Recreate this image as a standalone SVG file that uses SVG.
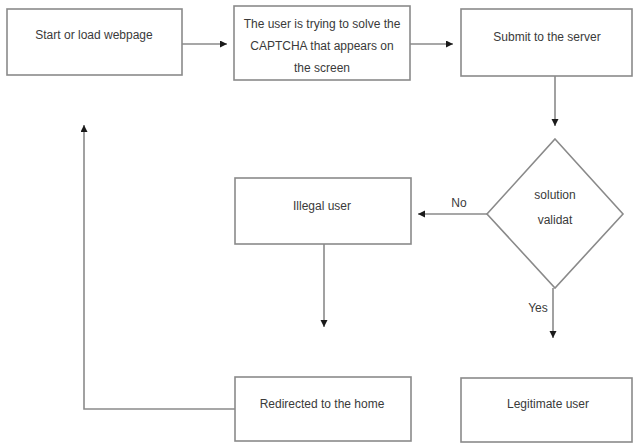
<svg xmlns="http://www.w3.org/2000/svg" width="633" height="443" viewBox="0 0 633 443">
<style>
.box{fill:#fff;stroke:#8a8a8a;stroke-width:1.6}
.t{font-family:"Liberation Sans",Arial,sans-serif;font-size:12px;fill:#3a3a3a;text-anchor:middle}
.c{fill:none;stroke:#8a8a8a;stroke-width:1.6}
</style>
<defs>
<marker id="ah" markerUnits="userSpaceOnUse" markerWidth="8" markerHeight="8" refX="7" refY="3.5" orient="auto">
<path d="M0,0 L7,3.5 L0,7 z" fill="#1a1a1a"/>
</marker>
</defs>
<rect width="633" height="443" fill="#fff"/>
<g id="connectors">
<line class="c" x1="182" y1="44" x2="227" y2="44" marker-end="url(#ah)"/>
<line class="c" x1="410" y1="44" x2="453" y2="44" marker-end="url(#ah)"/>
<line class="c" x1="555" y1="76" x2="555" y2="126" marker-end="url(#ah)"/>
<line class="c" x1="487" y1="214" x2="418" y2="214" marker-end="url(#ah)"/>
<line class="c" x1="324" y1="244" x2="324" y2="327" marker-end="url(#ah)"/>
<line class="c" x1="553" y1="288" x2="553" y2="338" marker-end="url(#ah)"/>
<polyline class="c" points="235,409 84,409 84,125" marker-end="url(#ah)"/>
<text class="t" x="459" y="207">No</text>
<text class="t" x="538" y="312">Yes</text>
</g>
<g id="start">
<rect class="box" x="7" y="9" width="175" height="66"/>
<text class="t" x="94" y="39">Start or load webpage</text>
</g>
<g id="captcha">
<rect class="box" x="234" y="6" width="176" height="74"/>
<text class="t" x="322" y="28">The user is trying to solve the</text>
<text class="t" x="322" y="50">CAPTCHA that appears on</text>
<text class="t" x="322" y="72">the screen</text>
</g>
<g id="submit">
<rect class="box" x="461" y="9" width="171" height="67"/>
<text class="t" x="547" y="41">Submit to the server</text>
</g>
<g id="decision">
<polygon class="box" points="555,139 623,214 555,288 487,214"/>
<text class="t" x="555" y="199">solution</text>
<text class="t" x="555" y="224">validat</text>
</g>
<g id="illegal">
<rect class="box" x="235" y="178" width="176" height="66"/>
<text class="t" x="322" y="210">Illegal user</text>
</g>
<g id="redirect">
<rect class="box" x="235" y="377" width="176" height="64"/>
<text class="t" x="322" y="408">Redirected to the home</text>
</g>
<g id="legit">
<rect class="box" x="461" y="378" width="171" height="64"/>
<text class="t" x="548" y="408">Legitimate user</text>
</g>
</svg>
